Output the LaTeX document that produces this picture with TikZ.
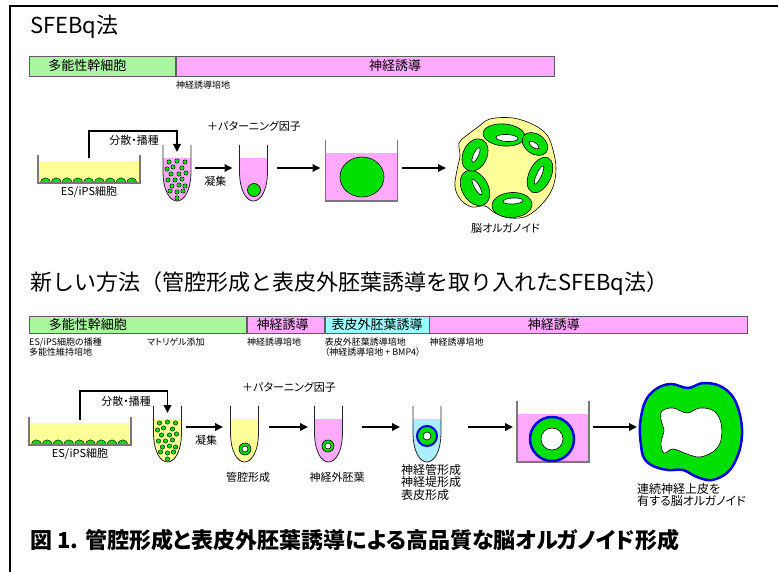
\documentclass[tikz,border=0pt]{standalone}
\usepackage{fontspec}
\setmainfont{Noto Sans CJK JP}[RawFeature=+palt]
\newfontfamily\jpwide{Noto Sans CJK JP}
\usetikzlibrary{arrows.meta, positioning, calc}

\definecolor{stemgreen}{RGB}{170,245,160}
\definecolor{inductpink}{RGB}{255,170,255}
\definecolor{ectocyan}{RGB}{153,255,255}
\definecolor{tubecyan}{RGB}{170,238,255}
\definecolor{mediumyellow}{RGB}{255,255,153}
\definecolor{cellgreen}{RGB}{0,224,0}
\definecolor{epiblue}{RGB}{0,0,230}
\definecolor{barline}{RGB}{100,90,100}
\definecolor{wallgray}{RGB}{120,120,120}

\begin{document}
\begin{tikzpicture}[
    x=1pt, y=-1pt,
    every node/.style={inner sep=0pt},
    heading/.style={font=\fontsize{22}{26}\selectfont, anchor=base west},
    barseg/.style={draw=barline, line width=0.8pt, anchor=west},
    barlabel/.style={font=\fontsize{13}{14}\selectfont},
    note/.style={font=\fontsize{9}{10}\selectfont, anchor=north west, align=left},
    tag/.style={font=\fontsize{11}{12}\selectfont, align=left},
    flow/.style={line width=1.8pt, -{Triangle[length=8pt,width=7.5pt]}},
    glass/.style={draw=black!85, line width=0.8pt},
    wall/.style={draw=wallgray, line width=1.2pt},
    outline/.style={draw=black, line width=0.6pt},
    cell/.style={outline, fill=cellgreen},
    vessel/.style={inner sep=0pt, outer sep=0pt},
    % round-bottomed tube, liquid colour as argument
    pics/tube/.style={code={
        \begin{scope}
          \clip (-14,0) -- (-14,26) .. controls (-14,66) and (14,66) .. (14,26) -- (14,0) -- cycle;
          \fill[#1] (-14,13) rectangle (14,60);
        \end{scope}
        \draw[glass] (-14,0) -- (-14,26) .. controls (-14,66) and (14,66) .. (14,26) -- (14,0);
        \node[vessel, minimum width=28pt, minimum height=56pt] (-box) at (0,28) {};
    }},
    % dispersed cells inside a tube
    pics/seeds/.style={code={
        \foreach \dx/\dy in {-8/17, 0/16, 8/17, -4/22, 5/23, -10/24, -6/29, 2/29, 9/28,
                             -9/35, -2/35, 5/34, -5/41, 2/40, 8/41, -7/46, 0/47, 6/46, 0/53}
          \draw[cell, line width=0.4pt] (\dx,\dy) circle (2.2);
    }},
    % culture dish with adherent cells
    pics/dish/.style={code={
        \fill[mediumyellow] (-51,6) rectangle (51,28);
        \foreach \i in {0,...,8}
          \draw[cell, line width=0.4pt] ({-48.8+10.8*\i},28) arc (180:360:5.2) -- cycle;
        \draw[wall] (-51,0) -- (-51,28) -- (51,28) -- (51,0);
        \node[vessel, minimum width=102pt, minimum height=28pt] (-box) at (0,14) {};
    }},
    % floating culture well
    pics/well/.style={code={
        \fill[#1] (-36,13) rectangle (36,61);
        \draw[wall] (-36,0) -- (-36,61) -- (36,61) -- (36,0);
        \node[vessel, minimum width=72pt, minimum height=61pt] (-box) at (0,30.5) {};
    }}
    ]
    \useasboundingbox (0,0) rectangle (778,572);
    \draw[line width=2pt] (9.5,572) -- (9.5,6) -- (778,6);

    %% ---------------- SFEBq ----------------
    \node[heading] (titleA) at (30,34) {SFEBq法};

    % culture period bar
    \node[barseg, fill=stemgreen, minimum width=146pt, minimum height=20pt] (stemA) at (29,66) {};
    \node[barseg, fill=inductpink, minimum width=378pt, minimum height=20pt, right=0pt of stemA] (neuralA) {};
    \node[barlabel] (stemAtext) at ([xshift=-15pt]stemA.center) {多能性幹細胞};
    \node[barlabel] (neuralAtext) at ([xshift=30pt]neuralA.center) {神経誘導};
    \node[note] (mediumA) at ([yshift=-4pt]neuralA.south west) {神経誘導培地};

    % vessels
    \coordinate (row1) at (0,168);
    \pic (dishA) at (89,155) {dish};
    \pic (tubeA) at (177,145) {tube=inductpink};
    \pic at (177,145) {seeds};
    \pic (tubeB) at (253.5,145) {tube=inductpink};
    \draw[cell] (254,190) circle (6.5);
    \pic (wellA) at (361.5,140) {well=inductpink};
    \draw[cell] (362,177) ellipse [x radius=22, y radius=20];

    % brain organoid
    \draw[outline, fill=mediumyellow] plot[smooth cycle, tension=0.6] coordinates {
        (490,119) (513,118) (534,125) (547,135) (553,150) (556,168) (553,187) (543,203)
        (527,216) (510,218) (495,213) (485,206) (472,207) (461,200) (455,187) (457,170)
        (460,156) (459,143) (466,136) (478,127)};
    \foreach \cx/\cy/\rx/\ry/\rt in {504/135/21/11/-5, 535/144/14/10/-35, 540/175/19/11/65,
                                     512/205/20/12.5/3, 475/188/19/13/-60, 475/155/17/12/65}
      \draw[cell, rotate around={\rt:(\cx,\cy)}] (\cx,\cy) ellipse [x radius=\rx, y radius=\ry];
    \foreach \cx/\cy/\rx/\ry/\rt in {507/138/11/3.5/-3, 534/145/6/2.5/-35, 539/175/10/2.5/65,
                                     513/201/10/3/3, 477/187/9/2.5/-60, 476/155/8/2.5/65}
      \draw[outline, fill=white, rotate around={\rt:(\cx,\cy)}] (\cx,\cy) ellipse [x radius=\rx, y radius=\ry];
    \node[vessel, minimum width=101pt, minimum height=100pt] (orgA) at (505.5,168) {};

    % arrows
    \draw[flow] ([yshift=-3pt]dishA-box.north) |- ([yshift=14pt]tubeA-box.north) -- ([yshift=-7pt]tubeA-box.north);
    \draw[flow, shorten <=4pt, shorten >=7pt] (tubeA-box.east |- row1) -- node[tag, below=7pt] (aggA) {凝集} (tubeB-box.west |- row1);
    \draw[flow, shorten <=9pt, shorten >=5pt] (tubeB-box.east |- row1) -- (wellA-box.west |- row1);
    \draw[flow, shorten <=4pt, shorten >=9pt] (wellA-box.east |- row1) -- (orgA.west |- row1);

    % labels
    \node[tag] (spreadA) at (134,140) {分散・播種};
    \node[tag] (patternA) at (254,126) {＋パターニング因子};
    \node[tag, below=3.5pt of dishA-box] (cellsA) {ES/iPS細胞};
    \node[tag, below=5pt of orgA] (organoidA) {脳オルガノイド};

    %% ---------------- new method ----------------
    \node[heading, font=\jpwide\fontsize{22}{26}\selectfont] (titleB) at (30,290) {新しい方法（管腔形成と表皮外胚葉誘導を取り入れたSFEBq法）};

    \node[barseg, fill=stemgreen, minimum width=217pt, minimum height=17pt] (stemB) at (29,324.5) {};
    \node[barseg, fill=inductpink, minimum width=77pt, minimum height=17pt, right=0pt of stemB] (neuralB) {};
    \node[barseg, fill=ectocyan, minimum width=104pt, minimum height=17pt, right=0pt of neuralB] (ectoB) {};
    \node[barseg, fill=inductpink, minimum width=318pt, minimum height=17pt, right=0pt of ectoB] (neuralC) {};
    \node[barlabel] (stemBtext) at ([xshift=-50pt]stemB.center) {多能性幹細胞};
    \node[barlabel] (neuralBtext) at ([xshift=-3pt]neuralB.center) {神経誘導};
    \node[barlabel] (ectoBtext) at (ectoB.center) {表皮外胚葉誘導};
    \node[barlabel] (neuralCtext) at ([xshift=-35pt]neuralC.center) {神経誘導};

    \node[note] (mediumB) at ([yshift=-4pt]stemB.south west) {ES/iPS細胞の播種\\多能性維持培地};
    \node[note] (matrigel) at ([xshift=118pt, yshift=-4pt]stemB.south west) {マトリゲル添加};
    \node[note] (mediumC) at ([yshift=-4pt]neuralB.south west) {神経誘導培地};
    \node[note] (mediumD) at ([yshift=-4pt]ectoB.south west) {表皮外胚葉誘導培地\\（神経誘導培地 + BMP4）};
    \node[note] (mediumE) at ([yshift=-4pt]neuralC.south west) {神経誘導培地};

    % vessels
    \coordinate (row2) at (0,427);
    \pic (dishB) at (80,417) {dish};
    \pic (tubeC) at (167.5,406) {tube=mediumyellow};
    \pic at (167.5,406) {seeds};
    \pic (tubeD) at (244.5,406) {tube=mediumyellow};
    \draw[cell] (245,449) circle (6);
    \draw[outline, fill=white] (245,449) circle (3);
    \pic (tubeE) at (328.5,406) {tube=inductpink};
    \draw[cell] (328,446) circle (6);
    \draw[outline, fill=white] (328,446) circle (3);
    \pic (tubeF) at (427,406) {tube=tubecyan};
    \draw[fill=cellgreen, draw=epiblue, line width=2pt] (427,436) circle (10);
    \draw[outline, fill=white] (427,436) circle (4);
    \pic (wellB) at (553,401) {well=inductpink};
    \draw[fill=cellgreen, draw=epiblue, line width=2.5pt] (552,439) circle (22);
    \draw[outline, fill=white] (552,439) circle (11);

    % organoid with continuous neuroepithelium
    \draw[fill=cellgreen, draw=epiblue, line width=2.5pt] plot[smooth cycle, tension=0.6] coordinates {
        (641,445) (640,425) (645,402) (656,389) (671,384) (688,388) (703,383) (720,386)
        (733,397) (740,415) (742,435) (738,455) (728,472) (712,480) (697,477) (683,470)
        (668,470) (653,466) (644,458)};
    \draw[outline, fill=white] plot[smooth cycle, tension=0.6] coordinates {
        (662,411) (673,408) (687,413) (700,408) (714,411) (721,423) (721,440) (714,451)
        (700,457) (687,454) (673,449) (664,453) (661,443) (664,430) (661,420)};
    \node[vessel, minimum width=104pt, minimum height=100pt] (orgB) at (690,430) {};

    % arrows
    \draw[flow] ([yshift=-3pt]dishB-box.north) |- ([yshift=15pt]tubeC-box.north) -- ([yshift=-7pt]tubeC-box.north);
    \draw[flow, shorten <=4.5pt, shorten >=7.5pt] (tubeC-box.east |- row2) -- node[tag, below=7.5pt] (aggB) {凝集} (tubeD-box.west |- row2);
    \draw[flow, shorten <=10.5pt, shorten >=6.5pt] (tubeD-box.east |- row2) -- (tubeE-box.west |- row2);
    \draw[flow, shorten <=19.5pt, shorten >=13pt] (tubeE-box.east |- row2) -- (tubeF-box.west |- row2);
    \draw[flow, shorten <=27pt, shorten >=4pt] (tubeF-box.east |- row2) -- (wellB-box.west |- row2);
    \draw[flow, shorten <=4pt, shorten >=1pt] (wellB-box.east |- row2) -- (orgB.west |- row2);

    % labels
    \node[tag] (spreadB) at (126,401) {分散・播種};
    \node[tag] (patternB) at (289,387) {＋パターニング因子};
    \node[tag, below=3.5pt of dishB-box] (cellsB) {ES/iPS細胞};
    \node[tag] (lumen) at (248,477) {管腔形成};
    \node[tag] (neuroecto) at (337,477) {神経外胚葉};
    \node[tag, font=\fontsize{12}{12.5}\selectfont, anchor=north west] (tubeFtext) at (401,464) {神経管形成\\神経堤形成\\表皮形成};
    \node[tag, font=\fontsize{12}{12.5}\selectfont, anchor=north west] (orgBtext) at (637,483) {連続神経上皮を\\有する脳オルガノイド};

    %% ---------------- caption ----------------
    \node[font=\bfseries\fontsize{22}{26}\selectfont, anchor=base west] (caption) at (30,548) {図 1. 管腔形成と表皮外胚葉誘導による高品質な脳オルガノイド形成};
\end{tikzpicture}
\end{document}
